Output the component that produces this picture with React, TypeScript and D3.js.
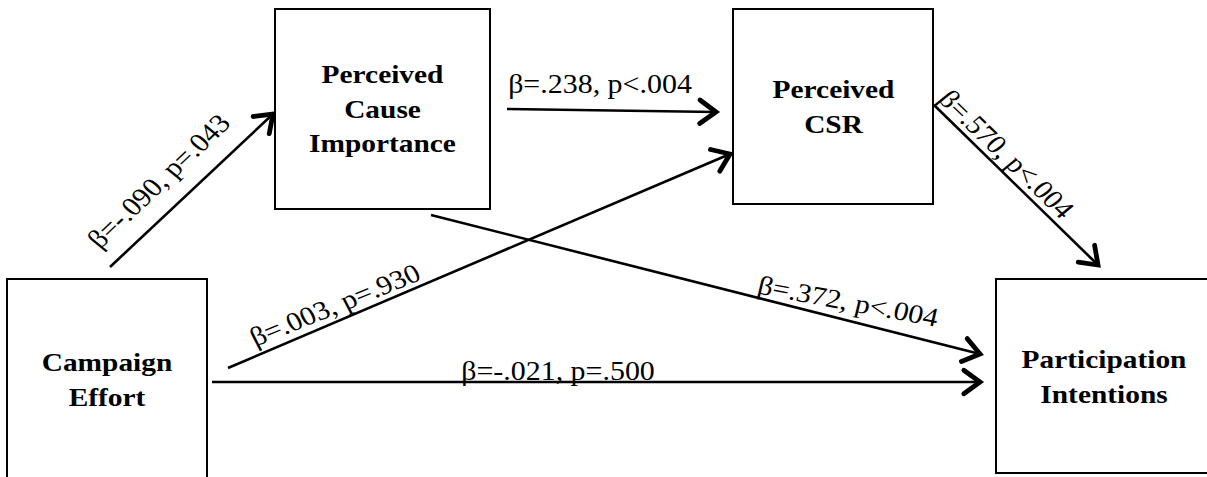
import React from 'react';
import * as d3 from 'd3';

const W = 1207;
const H = 477;

// constructs (box labels)
const nodeIds = ['ce', 'pci', 'csr', 'pi'];
const nodeLines = [
  ['Campaign', 'Effort'],
  ['Perceived', 'Cause', 'Importance'],
  ['Perceived', 'CSR'],
  ['Participation', 'Intentions'],
];

// paths: from -> to, standardised coefficients and p labels
const pathFrom = ['ce', 'pci', 'ce', 'pci', 'csr', 'ce'];
const pathTo = ['pci', 'csr', 'csr', 'pi', 'pi', 'pi'];
const betas = ['-.090', '.238', '.003', '.372', '.570', '-.021'];
const pvals = ['p=.043', 'p<.004', 'p=.930', 'p<.004', 'p<.004', 'p=.500'];

// ---- layout (page geometry, kept apart from the values) ----
const boxes: Record<string, { x: number; y: number; w: number; h: number; cx: number; base: number }> = {
  ce: { x: 7, y: 279, w: 200, h: 215, cx: 107, base: 371 },
  pci: { x: 275, y: 9, w: 215, h: 200, cx: 382.5, base: 83 },
  csr: { x: 733, y: 9, w: 200, h: 195, cx: 833.5, base: 98 },
  pi: { x: 996, y: 279, w: 225, h: 194, cx: 1104, base: 368 },
};
const LINE_GAP = 34.5;

// arrow endpoints per path
const arrowPts = [
  [110, 267, 273, 114],
  [507, 109, 716, 112],
  [228, 368, 730, 154],
  [431, 215, 980, 354],
  [934, 105, 1098, 265],
  [212, 382, 980, 382],
];
// label centre (baseline) and angle per path
const labelPos = [
  [166, 187, -43.5],
  [600, 93, 0],
  [339, 313, -22],
  [846, 310, 10.6],
  [999, 160, 44],
  [558, 380, 0],
];

const SX = 1.13; // horizontal stretch of the original figure
const FONT = '"Liberation Serif", "Times New Roman", Times, serif';

function stretchedTransform(x: number, y: number, deg: number) {
  const t = (deg * Math.PI) / 180;
  const inner = (Math.atan2(SX * Math.sin(t), Math.cos(t)) * 180) / Math.PI;
  return `translate(${x},${y}) scale(${SX},1) rotate(${inner})`;
}

const line = d3.line();

function arrowHead(x1: number, y1: number, x2: number, y2: number) {
  const phi = Math.atan2(y2 - y1, x2 - x1);
  const L = 20;
  const a = (36 * Math.PI) / 180;
  const p1: [number, number] = [x2 - L * Math.cos(phi - a), y2 - L * Math.sin(phi - a)];
  const p2: [number, number] = [x2 - L * Math.cos(phi + a), y2 - L * Math.sin(phi + a)];
  return line([p1, [x2, y2], p2]) || '';
}

const App = () => {
  return (
    <svg
      width={W}
      height={H}
      style={{ position: 'absolute', left: 0, top: 0, background: '#fff', fontFamily: FONT }}
    >
      <rect width={W} height={H} fill="#fff" />
      {nodeIds.map((id, i) => {
        const b = boxes[id];
        return (
          <g key={id}>
            <rect x={b.x} y={b.y} width={b.w} height={b.h} fill="none" stroke="#000" strokeWidth={2} />
            {nodeLines[i].map((t, j) => (
              <text
                key={j}
                transform={stretchedTransform(b.cx, b.base + j * LINE_GAP, 0)}
                textAnchor="middle"
                fontSize={26}
                fontWeight="bold"
                fill="#000"
              >
                {t}
              </text>
            ))}
          </g>
        );
      })}
      {pathFrom.map((f, i) => {
        const [x1, y1, x2, y2] = arrowPts[i];
        const [lx, ly, la] = labelPos[i];
        return (
          <g key={`${f}-${pathTo[i]}-${i}`}>
            <path d={line([[x1, y1], [x2, y2]]) || ''} stroke="#000" strokeWidth={2.6} fill="none" />
            <path
              d={arrowHead(x1, y1, x2, y2)}
              stroke="#000"
              strokeWidth={4.8}
              fill="none"
              strokeLinecap="round"
              strokeLinejoin="miter"
            />
            <text
              transform={stretchedTransform(lx, ly, la)}
              textAnchor="middle"
              fontSize={26.5}
              fill="#000"
            >
              {`β=${betas[i]}, ${pvals[i]}`}
            </text>
          </g>
        );
      })}
    </svg>
  );
};

export default App;
